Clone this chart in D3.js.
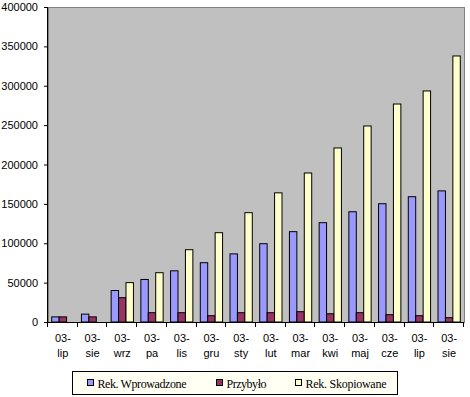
<!DOCTYPE html>
<html>
<head>
<meta charset="utf-8">
<script src="https://cdn.jsdelivr.net/npm/d3@7"></script>
<style>
  body { margin: 0; background: #fff; }
  .ax text { font-family: "Liberation Sans", Arial, sans-serif; }
  .leg text { font-family: "Liberation Serif", "Times New Roman", serif; }
</style>
</head>
<body>
<svg id="chart" width="470" height="397"></svg>
<script>
const categories = ["03-lip", "03-sie", "03-wrz", "03-pa", "03-lis", "03-gru", "03-sty",
    "03-lut", "03-mar", "03-kwi", "03-maj", "03-cze", "03-lip ", "03-sie "];
const wprowadzone = [6500, 10000, 40000, 54000, 65000, 75300, 86500, 99400, 114700, 126100, 140000, 150200, 159100, 166500];
const przybylo = [6500, 6500, 30900, 11800, 11800, 8000, 11800, 11800, 13100, 10500, 11800, 9300, 8000, 5500];
const skopiowane = [0, 0, 50000, 62600, 91800, 113400, 138800, 164000, 189200, 221000, 248900, 276800, 293400, 337800];
const yTicks = [0, 50000, 100000, 150000, 200000, 250000, 300000, 350000, 400000];

const seriesNames = ["Rek. Wprowadzone", "Przybyło", "Rek. Skopiowane"];
const seriesColors = ["#9999FF", "#993366", "#FFFFCC"];

const svg = d3.select("#chart");
const margin = { top: 7, right: 6, bottom: 75, left: 48 };
const width = 470, height = 397;
const plotW = width - margin.left - margin.right;
const plotH = height - margin.top - margin.bottom;

const g = svg.append("g").attr("transform", `translate(${margin.left},${margin.top})`);

// plot background
g.append("rect")
    .attr("width", plotW).attr("height", plotH)
    .attr("fill", "#C0C0C0")
    .attr("stroke", "#808080").attr("stroke-width", 1)
    .attr("shape-rendering", "crispEdges");

let x0 = d3.scaleBand().domain(categories).range([0, plotW]).paddingInner(0);
let x1 = d3.scaleBand().domain(seriesNames).range([x0.bandwidth() / 8, x0.bandwidth() * 7 / 8]);
let y = d3.scaleLinear().domain([0, 400000]).range([plotH, 0]);

const data = categories.map((c, i) => ({
    category: c,
    values: [wprowadzone[i], przybylo[i], skopiowane[i]]
}));

const groups = g.selectAll(".grp").data(data).enter().append("g")
    .attr("transform", d => `translate(${x0(d.category)},0)`);

groups.selectAll("rect")
    .data(d => d.values.map((v, k) => ({ name: seriesNames[k], value: v, color: seriesColors[k] })))
    .enter().filter(d => d.value > 0)
    .append("rect")
    .attr("x", d => x1(d.name))
    .attr("y", d => y(d.value))
    .attr("width", x1.bandwidth())
    .attr("height", d => plotH - y(d.value))
    .attr("fill", d => d.color)
    .attr("stroke", "#000").attr("stroke-width", 1);

// y axis
const yAxis = d3.axisLeft(y).tickValues(yTicks).tickSize(4).tickPadding(6).tickFormat(d3.format("d"));
const ya = g.append("g").attr("class", "ax").call(yAxis);
ya.select(".domain").attr("stroke", "#000").attr("d", `M-0.5,0V${plotH}`);
ya.selectAll("text").attr("font-size", 11).attr("fill", "#000");

// x axis
const xa = g.append("g").attr("class", "ax").attr("transform", `translate(0,${plotH})`);
xa.append("line").attr("x1", -0.5).attr("x2", plotW).attr("y1", 0.5).attr("y2", 0.5).attr("stroke", "#000");
xa.selectAll(".tk").data(d3.range(categories.length + 1)).enter().append("line")
    .attr("x1", i => Math.round(i * x0.step()) - 0.5)
    .attr("x2", i => Math.round(i * x0.step()) - 0.5)
    .attr("y1", 0).attr("y2", 5).attr("stroke", "#000");
const lbl = xa.selectAll(".lbl").data(categories).enter().append("text")
    .attr("text-anchor", "middle")
    .attr("font-size", 11)
    .attr("transform", d => `translate(${x0(d) + x0.bandwidth() / 2},0)`);
lbl.append("tspan").attr("x", 0).attr("y", 20).text(d => d.trim().split("-")[0] + "-");
lbl.append("tspan").attr("x", 0).attr("y", 35).text(d => d.trim().split("-")[1]);

// legend
const leg = svg.append("g").attr("class", "leg").attr("transform", "translate(72.5,371.5)");
leg.append("rect").attr("width", 325).attr("height", 23)
    .attr("fill", "#FFFFF4").attr("stroke", "#000");
const legX = [15, 144, 223];
const legLen = [89, 40, 81];
seriesNames.forEach((n, k) => {
    const it = leg.append("g").attr("transform", `translate(${legX[k]},8)`);
    it.append("rect").attr("width", 6).attr("height", 6)
        .attr("fill", seriesColors[k]).attr("stroke", "#000");
    it.append("text").attr("x", 10).attr("y", 8)
        .attr("font-size", 12)
        .attr("textLength", legLen[k])
        .attr("lengthAdjust", "spacing")
        .text(n);
});
</script>
</body>
</html>
